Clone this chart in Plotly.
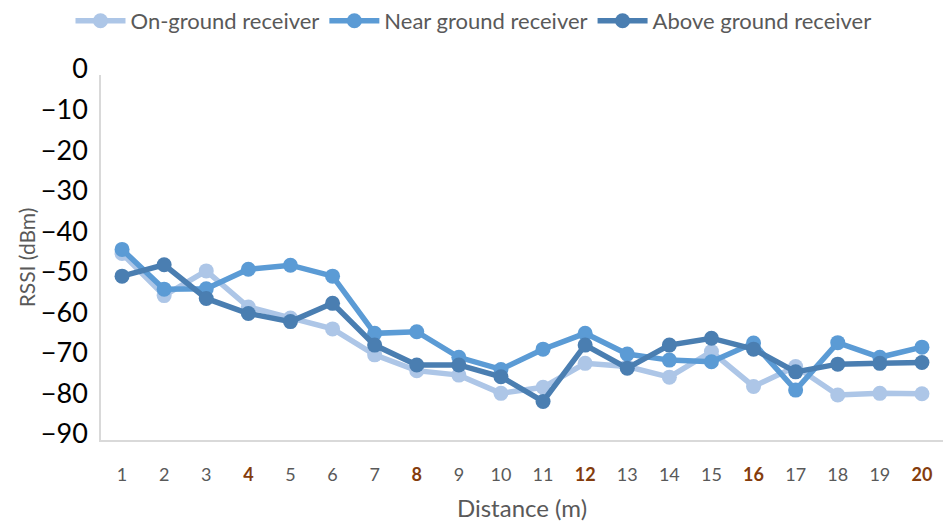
import plotly.graph_objects as go

# Distance from the transmitter (m)
distance = list(range(1, 21))

# RSSI readings (dBm) for each receiver placement
on_ground = [-44.0, -54.4, -48.3, -57.2, -59.9, -62.6, -69.0, -72.9, -74.0, -78.5,
             -77.0, -71.1, -71.9, -74.5, -68.2, -76.8, -71.9, -78.9, -78.5, -78.6]
near_ground = [-43.0, -52.8, -52.7, -47.9, -46.9, -49.6, -63.7, -63.3, -69.6, -72.6,
               -67.6, -63.7, -68.8, -70.3, -70.7, -66.1, -77.7, -66.0, -69.6, -67.1]
above_ground = [-49.6, -46.8, -55.1, -58.8, -60.8, -56.3, -66.6, -71.5, -71.5, -74.4,
                -80.5, -66.6, -72.3, -66.6, -64.9, -67.6, -73.2, -71.3, -71.1, -70.9]

series_names = ["On-ground receiver", "Near ground receiver", "Above ground receiver"]
series_colors = ["#adc6e7", "#5b9bd5", "#4a7eb1"]
series_values = [on_ground, near_ground, above_ground]

# every fourth metre is highlighted on the distance axis
highlight = {4, 8, 12, 16, 20}
tick_text = [
    f"<b><span style='color:#843c0c'>{d}</span></b>" if d in highlight else str(d)
    for d in distance
]

y_ticks = list(range(0, -100, -10))
y_tick_text = ["0" if v == 0 else f"\u2212{abs(v)}" for v in y_ticks]

FONT = "Lato"

fig = go.Figure()
for name, color, vals in zip(series_names, series_colors, series_values):
    fig.add_trace(go.Scatter(
        x=distance, y=vals, name=name, mode="lines+markers",
        line=dict(color=color, width=5.5),
        marker=dict(color=color, size=15),
    ))

fig.update_layout(
    width=947, height=530,
    margin=dict(l=101, r=4, t=75, b=90),
    paper_bgcolor="white", plot_bgcolor="white",
    font=dict(family=FONT, color="#595959"),
    showlegend=True,
    legend=dict(
        orientation="h", xref="container", x=0.5, xanchor="center",
        yref="container", y=1.0, yanchor="top",
        font=dict(size=22, color="#595959", family=FONT),
        itemwidth=50, tracegroupgap=0,
    ),
    xaxis=dict(
        range=[0.5, 20.5], tickmode="array", tickvals=distance, ticktext=tick_text,
        showgrid=False, zeroline=False, showline=True, linecolor="#d9d9d9", linewidth=1.5,
        ticks="", ticklabelstandoff=18,
        tickfont=dict(size=18, color="#595959", family=FONT),
        title=dict(text="Distance (m)", font=dict(size=24, color="#595959", family=FONT), standoff=16),
    ),
    yaxis=dict(
        range=[-90, 0], tickmode="array", tickvals=y_ticks, ticktext=y_tick_text,
        showgrid=False, zeroline=False, showline=True, linecolor="#d9d9d9", linewidth=1.5,
        ticks="", ticklabelstandoff=6, ticklabelshift=-6,
        tickfont=dict(size=27, color="#000000", family=FONT),
        title=dict(text="RSSI (dBm)", font=dict(size=21, color="#595959", family=FONT), standoff=0),
    ),
)

fig.write_html("out.html")
